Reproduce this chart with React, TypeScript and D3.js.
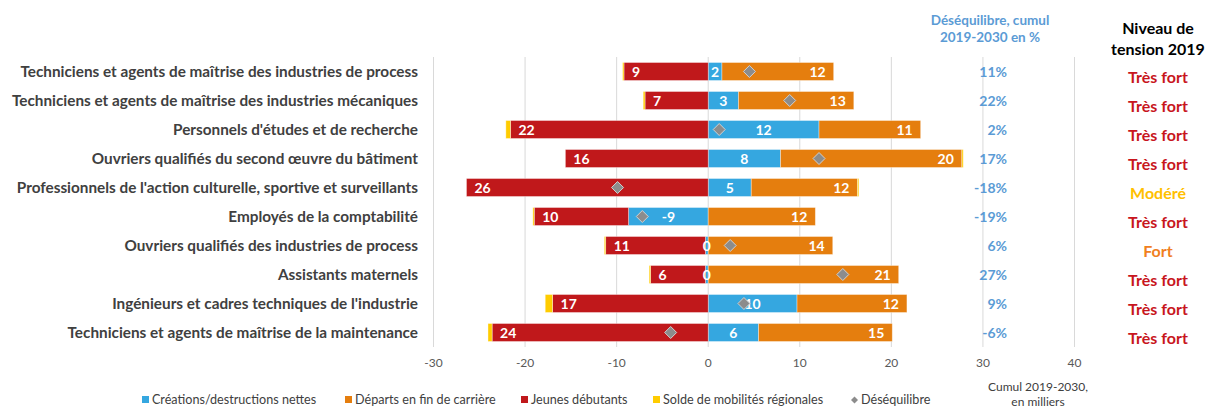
import React from "react";
import * as d3 from "d3";

const categories = [
  "Techniciens et agents de maîtrise des industries de process",
  "Techniciens et agents de maîtrise des industries mécaniques",
  "Personnels d'études et de recherche",
  "Ouvriers qualifiés du second œuvre du bâtiment",
  "Professionnels de l'action culturelle, sportive et surveillants",
  "Employés de la comptabilité",
  "Ouvriers qualifiés des industries de process",
  "Assistants maternels",
  "Ingénieurs et cadres techniques de l'industrie",
  "Techniciens et agents de maîtrise de la maintenance",
];
const creations = [1.5, 3.3, 12.1, 7.9, 4.7, -8.7, -0.3, -0.3, 9.7, 5.5];
const departs = [12.2, 12.6, 11.1, 19.8, 11.6, 11.7, 13.6, 20.8, 12.0, 14.6];
const jeunes = [-9.2, -6.9, -21.6, -15.6, -26.4, -10.3, -10.9, -6.0, -17.0, -23.6];
const solde = [-0.15, -0.2, -0.5, 0.15, 0.15, -0.15, -0.15, -0.15, -0.8, -0.45];
const desequilibre = [4.5, 8.9, 1.2, 12.1, -9.9, -7.2, 2.4, 14.7, 3.9, -4.1];
const desequilibrePct = [11, 22, 2, 17, -18, -19, 6, 27, 9, -6];
const tension = ["Très fort", "Très fort", "Très fort", "Très fort", "Modéré", "Très fort", "Fort", "Très fort", "Très fort", "Très fort"];
const xTicks = [-30, -20, -10, 0, 10, 20, 30, 40];

const seriesKeys = ["creations", "departs", "jeunes", "solde"];
const seriesNames = ["Créations/destructions nettes", "Départs en fin de carrière", "Jeunes débutants", "Solde de mobilités régionales"];
const colors: Record<string, string> = {
  creations: "#35a7e0",
  departs: "#e57e0e",
  jeunes: "#c0181b",
  solde: "#ffcc00",
};
const tensionColors: Record<string, string> = {
  "Très fort": "#c8161d",
  "Modéré": "#ffc000",
  "Fort": "#f0801e",
};

const FONT = "Lato, 'Open Sans', sans-serif";

export default function App() {
  const W = 1213, H = 408;
  const x = d3.scaleLinear().domain([-30, 40]).range([433.5, 1074.5]);
  const y = d3.scaleBand<string>().domain(categories).range([57, 347]).paddingInner(0.38).paddingOuter(0.19);
  const bw = y.bandwidth();

  const rows = categories.map((c, i) => ({
    cat: c,
    creations: creations[i],
    departs: departs[i],
    jeunes: jeunes[i],
    solde: solde[i],
  }));
  const stacked = d3.stack<any>().keys(seriesKeys).offset(d3.stackOffsetDiverging)(rows);

  const legendX = [142, 345, 521, 653, 851];

  return (
    <svg width={W} height={H} style={{ position: "absolute", left: 0, top: 0, fontFamily: FONT }}>
      <rect width={W} height={H} fill="#fff" />
      {/* gridlines */}
      {xTicks.map((t) => (
        <line key={t} x1={x(t)} x2={x(t)} y1={57} y2={347} stroke="#d9d9d9" strokeWidth={1} />
      ))}
      {xTicks.map((t) => (
        <text key={"t" + t} x={x(t)} y={367} textAnchor="middle" fontSize={12} fill="#595959">
          {t}
        </text>
      ))}
      {/* bars */}
      {stacked.map((s) =>
        s.map((d, i) => {
          const x0 = Math.min(x(d[0]), x(d[1]));
          const x1 = Math.max(x(d[0]), x(d[1]));
          return (
            <rect
              key={s.key + i}
              x={x0}
              y={y(categories[i])!}
              width={Math.max(0, x1 - x0)}
              height={bw}
              fill={colors[s.key]}
              stroke="rgba(255,255,255,0.45)"
              strokeWidth={0.8}
            />
          );
        })
      )}
      {/* bar labels */}
      {stacked.map((s) =>
        s.map((d, i) => {
          const cy = y(categories[i])! + bw / 2 + 5;
          const v = (rows[i] as any)[s.key];
          if (s.key === "solde") return null;
          const r = Math.round(s.key === "jeunes" ? -v : v);
          const label = String(r === 0 ? 0 : r);
          const lo = Math.min(d[0], d[1]);
          const hi = Math.max(d[0], d[1]);
          let tx: number, anchor: string;
          if (s.key === "creations") {
            tx = (x(lo) + x(hi)) / 2;
            anchor = "middle";
          } else if (s.key === "departs") {
            tx = x(hi) - 8;
            anchor = "end";
          } else {
            tx = x(lo) + 8;
            anchor = "start";
          }
          return (
            <text key={"l" + s.key + i} x={tx} y={cy} textAnchor={anchor as any} fontSize={14} fontWeight="bold" fill="#fff">
              {label}
            </text>
          );
        })
      )}
      {/* diamonds */}
      {desequilibre.map((v, i) => {
        const cx = x(v);
        const cy = y(categories[i])! + bw / 2;
        const r = 6;
        return (
          <path
            key={"d" + i}
            d={`M${cx},${cy - r}L${cx + r},${cy}L${cx},${cy + r}L${cx - r},${cy}Z`}
            fill="#8c8c8c"
            stroke="#d0d0d0"
            strokeWidth={1}
          />
        );
      })}
      {/* category labels */}
      {categories.map((c) => (
        <text key={c} x={418} y={y(c)! + bw / 2 + 5} textAnchor="end" fontSize={15.3} fontWeight="bold" fill="#404040">
          {c}
        </text>
      ))}
      {/* pct column */}
      <text x={990} y={25} textAnchor="middle" fontSize={13.5} fontWeight="bold" fill="#5b9bd5">Déséquilibre, cumul</text>
      <text x={990} y={42} textAnchor="middle" fontSize={13.5} fontWeight="bold" fill="#5b9bd5">2019-2030 en %</text>
      {desequilibrePct.map((p, i) => (
        <text key={"p" + i} x={1007} y={y(categories[i])! + bw / 2 + 5.5} textAnchor="end" fontSize={14} fontWeight="bold" fill="#5b9bd5">
          {p}%
        </text>
      ))}
      {/* tension column */}
      <text x={1158} y={34} textAnchor="middle" fontSize={16} fontWeight="bold" fill="#000">Niveau de</text>
      <text x={1158} y={55} textAnchor="middle" fontSize={16} fontWeight="bold" fill="#000">tension 2019</text>
      {tension.map((t, i) => (
        <text key={"te" + i} x={1158} y={y(categories[i])! + bw / 2 + 11.5} textAnchor="middle" fontSize={16} fontWeight="bold" fill={tensionColors[t]}>
          {t}
        </text>
      ))}
      {/* axis note */}
      <text x={1038} y={391} textAnchor="middle" fontSize={12} fill="#404040">Cumul 2019-2030,</text>
      <text x={1038} y={406} textAnchor="middle" fontSize={12} fill="#404040">en milliers</text>
      {/* legend */}
      {seriesKeys.map((k, i) => (
        <g key={"lg" + k} transform={`translate(${legendX[i]},400)`}>
          <rect x={0} y={-4} width={7} height={7} fill={colors[k]} />
          <text x={10} y={4} fontSize={12.6} fill="#404040">{seriesNames[i]}</text>
        </g>
      ))}
      <g transform={`translate(${legendX[4]},400)`}>
        <path d="M3.5,-3.5L7,0L3.5,3.5L0,0Z" fill="#8c8c8c" />
        <text x={10} y={4} fontSize={12.6} fill="#404040">Déséquilibre</text>
      </g>
    </svg>
  );
}
